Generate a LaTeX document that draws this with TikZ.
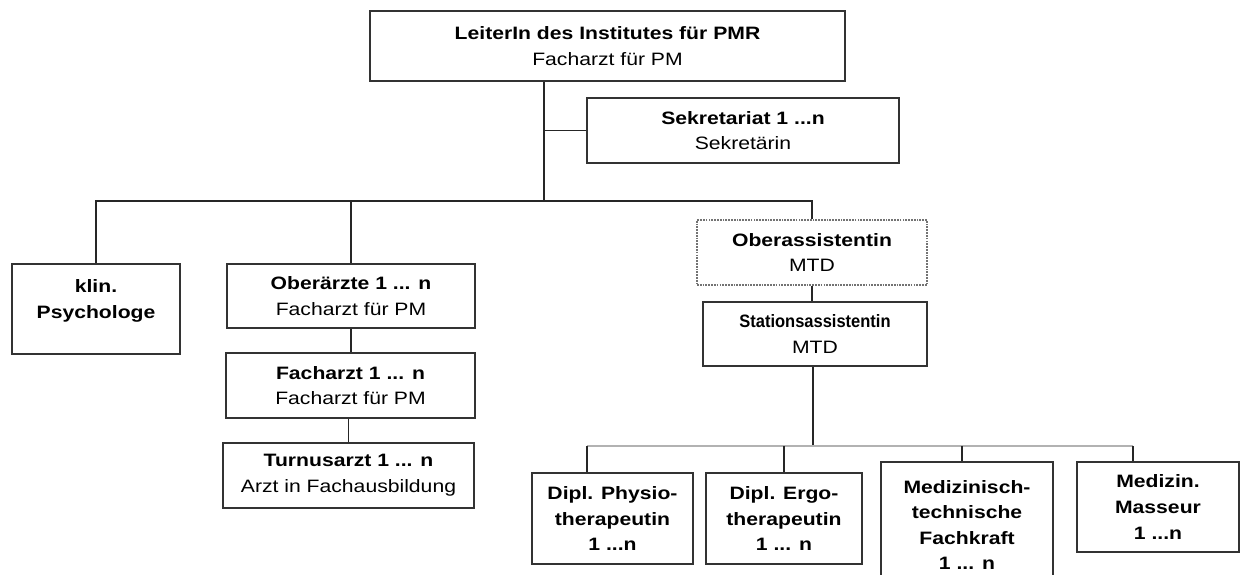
\documentclass[tikz,border=0pt]{standalone}
\usepackage{fontspec}
\setmainfont{Liberation Sans}[FakeStretch=1.18]
\newfontfamily\narrowfont{Liberation Sans}[FakeStretch=0.92]
\usepackage{tikz}

\tikzset{
  unit/.style={draw=black!80, line width=0.7pt, align=center, inner sep=0pt,
    font=\fontsize{10.2}{14.6}\selectfont},
  bunit/.style={unit, font=\fontsize{10.2}{14.6}\selectfont\bfseries},
  staff/.style={unit, draw=black!55, dash pattern=on 1pt off 0.6pt},
  link/.style={black!85, line width=0.6pt},
  buslink/.style={gray!60, line width=0.8pt}
}

\begin{document}
\begin{tikzpicture}
\useasboundingbox (0,0) rectangle (24.82,-11.48);
% head
\node[unit, minimum width=9.5cm, minimum height=1.4cm] (L) at (12.15,-0.92)
  {\textbf{LeiterIn des Institutes für PMR}\\Facharzt für PM};
\node[unit, minimum width=6.24cm, minimum height=1.3cm] (S) at (14.86,-2.61)
  {\textbf{Sekretariat 1 ...n}\\Sekretärin};
% second level
\node[bunit, minimum width=3.36cm, minimum height=1.8cm, text depth=0.4cm] (P) at (1.92,-6.18)
  {klin.\\Psychologe};
\node[unit, minimum width=4.96cm, minimum height=1.28cm] (OA) at (7.02,-5.92)
  {\textbf{Oberärzte 1 ... n}\\Facharzt für PM};
\node[unit, minimum width=4.98cm, minimum height=1.3cm] (FA) at (7.01,-7.71)
  {\textbf{Facharzt 1 ... n}\\Facharzt für PM};
\node[unit, minimum width=5.02cm, minimum height=1.3cm] (TA) at (6.97,-9.51)
  {\textbf{Turnusarzt 1 ... n}\\Arzt in Fachausbildung};
\node[staff, minimum width=4.6cm, minimum height=1.3cm] (OS) at (16.24,-5.05)
  {\textbf{Oberassistentin}\\MTD};
\node[unit, minimum width=4.48cm, minimum height=1.28cm] (SA) at (16.3,-6.68)
  {{\narrowfont\bfseries Stationsassistentin}\\MTD};
% therapists
\node[bunit, minimum width=3.22cm, minimum height=1.82cm] (T1) at (12.25,-10.37)
  {Dipl. Physio-\\therapeutin\\1 ...n};
\node[bunit, minimum width=3.12cm, minimum height=1.82cm] (T2) at (15.68,-10.37)
  {Dipl. Ergo-\\therapeutin\\1 ... n};
\node[bunit, minimum width=3.44cm, minimum height=2.52cm] (T3) at (19.34,-10.5)
  {Medizinisch-\\technische\\Fachkraft\\1 ... n};
\node[bunit, minimum width=3.24cm, minimum height=1.8cm] (T4) at (23.16,-10.14)
  {Medizin.\\Masseur\\1 ...n};

% branch points
\coordinate (hub) at (10.88,-4.02);
\coordinate (hub2) at (16.26,-8.92);
\coordinate (t1) at (11.74,-8.92);
\coordinate (t3) at (19.24,-8.92);
\coordinate (t4) at (22.66,-8.92);

% relations
\draw[link] (hub |- L.south) -- (hub);
\draw[link] (S.west) -- (S.west -| hub);
\draw[link] (P.north) -- (P.north |- hub) -- (OS.north |- hub) -- (OS.north);
\draw[link] (OA.north) -- (OA.north |- hub);
\draw[link] (OA.south) -- (OA.south |- FA.north);
\draw[link] (TA.north) -- (TA.north |- FA.south);
\draw[link] (OS.south) -- (OS.south |- SA.north);
\draw[link] (hub2 |- SA.south) -- (hub2);
\draw[buslink] (t1) -- (t4);
\draw[link] (t1) -- (t1 |- T1.north);
\draw[link] (T2.north |- hub2) -- (T2.north);
\draw[link] (t3) -- (t3 |- T3.north);
\draw[link] (t4) -- (t4 |- T4.north);
\end{tikzpicture}
\end{document}
